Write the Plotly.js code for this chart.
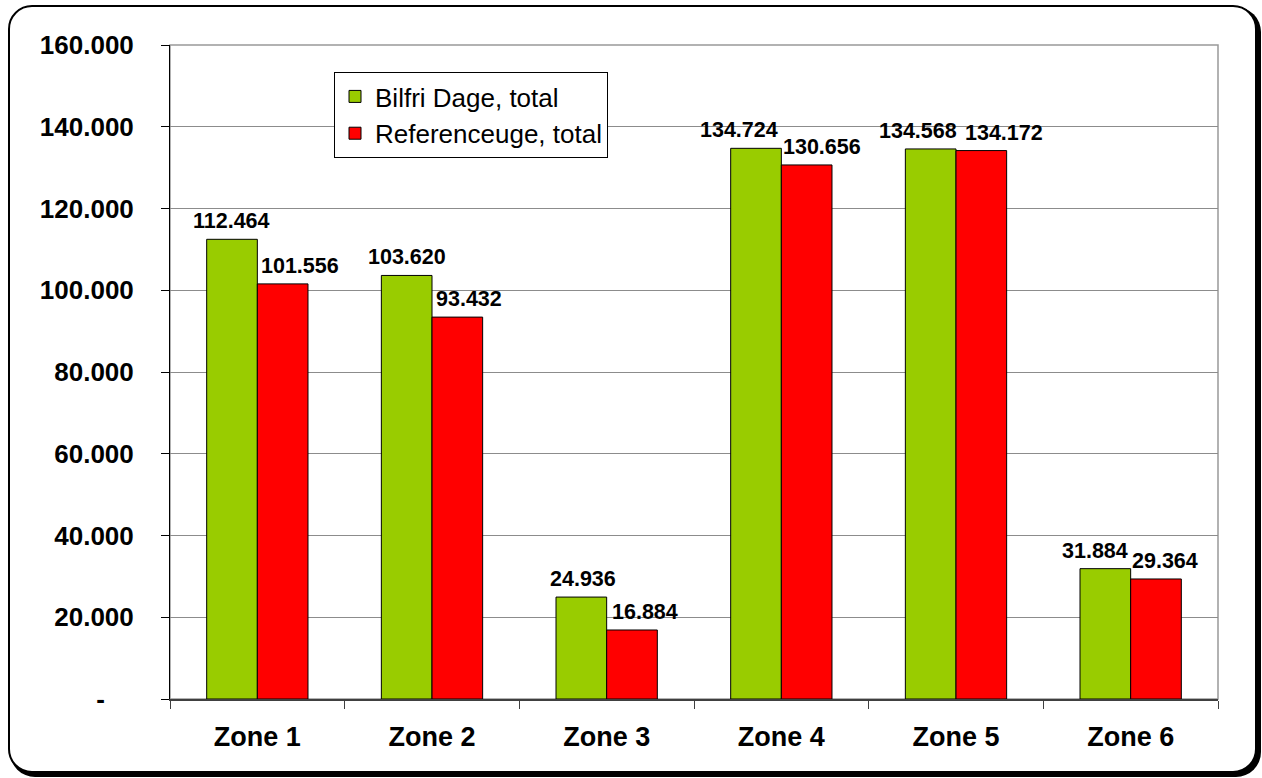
<!DOCTYPE html>
<html>
<head>
<meta charset="utf-8">
<script src="https://cdn.plot.ly/plotly-3.0.1.min.js"></script>
<style>
  html, body { margin: 0; padding: 0; background: #ffffff; }
  #wrap { position: relative; width: 1262px; height: 778px; overflow: hidden; background: #fff; }
  #frame { position: absolute; left: 8px; top: 5px; width: 1245px; height: 764px; border: 2px solid #000; border-radius: 24px; box-shadow: 3px 3px 0 1px #000; background: #fff; }
  #chart { position: absolute; left: 0; top: 0; width: 1262px; height: 778px; }
</style>
</head>
<body>
<div id="wrap">
  <div id="frame"></div>
  <div id="chart"></div>
</div>
<script>
const categories = ["Zone 1", "Zone 2", "Zone 3", "Zone 4", "Zone 5", "Zone 6"];
const seriesNames = ["Bilfri Dage, total", "Referenceuge, total"];
const bilfri = [112464, 103620, 24936, 134724, 134568, 31884];
const reference = [101556, 93432, 16884, 130656, 134172, 29364];
const yTickVals = [0, 20000, 40000, 60000, 80000, 100000, 120000, 140000, 160000];
const yTickText = ["-\u00a0\u00a0\u00a0\u00a0", "20.000", "40.000", "60.000", "80.000", "100.000", "120.000", "140.000", "160.000"];

// label horizontal nudges (style only)
const greenShift = [0, 0, 2, -17, -13, -10];
const redShift = [17, 11, 13, 15, 22, 9];

function fmt(v) {
  const s = String(Math.round(v));
  return s.replace(/\B(?=(\d{3})+(?!\d))/g, ".");
}

const FONT = "Liberation Sans, Arial, sans-serif";

const traces = [
  {
    type: "bar", name: seriesNames[0], x: categories, y: bilfri,
    marker: { color: "#99CC00", line: { color: "#000000", width: 1 } },
    hoverinfo: "none"
  },
  {
    type: "bar", name: seriesNames[1], x: categories, y: reference,
    marker: { color: "#FF0000", line: { color: "#000000", width: 1 } },
    hoverinfo: "none"
  }
];

const annotations = [];
const barOffset = 25.5;
categories.forEach((c, i) => {
  annotations.push({
    x: c, y: bilfri[i], xref: "x", yref: "y", text: fmt(bilfri[i]),
    showarrow: false, yanchor: "bottom", xanchor: "center",
    xshift: -barOffset + greenShift[i], yshift: 4,
    font: { family: FONT, size: 21.5, color: "#000", weight: "bold" }
  });
  annotations.push({
    x: c, y: reference[i], xref: "x", yref: "y", text: fmt(reference[i]),
    showarrow: false, yanchor: "bottom", xanchor: "center",
    xshift: barOffset + redShift[i], yshift: 4,
    font: { family: FONT, size: 21.5, color: "#000", weight: "bold" }
  });
});

const layout = {
  width: 1262, height: 778,
  margin: { l: 170, r: 44, t: 45, b: 79, pad: 0 },
  paper_bgcolor: "rgba(0,0,0,0)",
  plot_bgcolor: "rgba(0,0,0,0)",
  barmode: "group",
  bargap: 0.42,
  bargroupgap: 0,
  showlegend: true,
  legend: {
    x: 0.1565, y: 0.9587, xanchor: "left", yanchor: "top",
    bgcolor: "#ffffff", bordercolor: "#000000", borderwidth: 1,
    font: { family: FONT, size: 26, color: "#000" },
    itemwidth: 30, tracegroupgap: 0
  },
  xaxis: {
    type: "category",
    tickson: "boundaries",
    ticks: "outside", ticklen: 8, tickcolor: "#404040", tickwidth: 1,
    showline: true, linecolor: "#404040", linewidth: 1.5,
    showgrid: false, zeroline: false,
    tickfont: { family: FONT, size: 27, color: "#000", weight: "bold" },
    ticklabelstandoff: 13
  },
  yaxis: {
    range: [0, 160000],
    tickvals: yTickVals, ticktext: yTickText,
    ticks: "outside", ticklen: 8, tickcolor: "#000", tickwidth: 1,
    showline: true, linecolor: "#000000", linewidth: 1,
    showgrid: true, gridcolor: "#8c8c8c", gridwidth: 1,
    zeroline: false,
    tickfont: { family: FONT, size: 26, color: "#000", weight: "bold" },
    ticklabelstandoff: 22
  },
  shapes: [
    { type: "rect", xref: "paper", yref: "paper", x0: 0, x1: 1, y0: 0, y1: 1,
      line: { color: "#999999", width: 1.5 }, layer: "below" }
  ],
  annotations: annotations
};

Plotly.newPlot("chart", traces, layout, { displayModeBar: false, staticPlot: true });
</script>
</body>
</html>
